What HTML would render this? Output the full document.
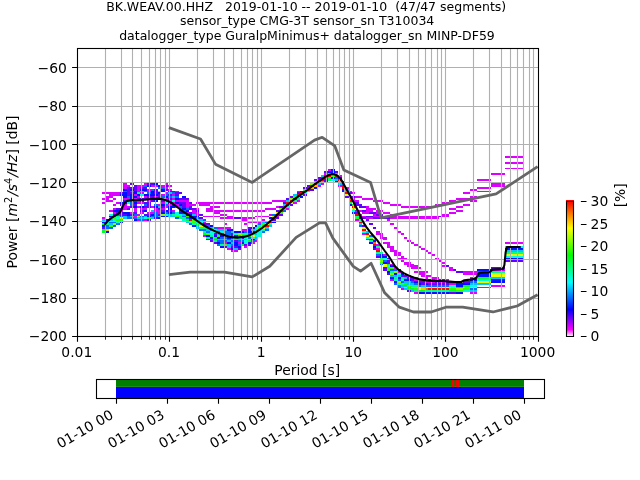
<!DOCTYPE html>
<html lang="en"><head><meta charset="utf-8"><title>PPSD BK.WEAV.00.HHZ</title>
<style>html,body{margin:0;padding:0;background:#fff;overflow:hidden}svg{display:block;will-change:transform;font-family:'DejaVu Sans', 'Liberation Sans', sans-serif;fill:#000}.t10{font-size:13.89px}.t9{font-size:12.5px}</style></head><body>
<svg width="640" height="480" viewBox="0 0 640 480">
<rect width="640" height="480" fill="#fff"/>
<g shape-rendering="crispEdges" stroke="none">
<path fill="#db00ff" d="M137 219H140V221H137ZM144 219H147V221H144ZM241 219H248V221H241ZM262 219H265V221H262ZM355 219H359V221H355ZM387 219H390V221H387ZM224 223H227V225H224ZM244 223H248V225H244ZM390 223H394V225H390ZM241 229H248V231H241ZM376 231H380V233H376ZM397 231H401V233H397ZM102 217H106V219H102ZM220 217H234V219H220ZM241 217H255V219H241ZM366 217H373V219H366ZM380 217H383V219H380ZM390 217H439V219H390ZM203 221H206V223H203ZM248 221H262V223H248ZM217 227H231V229H217ZM394 227H397V229H394ZM137 214H140V216H137ZM196 214H199V216H196ZM220 214H227V216H220ZM269 214H272V216H269ZM359 214H362V216H359ZM373 214H376V216H373ZM390 214H394V216H390ZM442 214H449V216H442ZM134 216H137V217H134ZM203 216H220V217H203ZM227 216H234V217H227ZM255 216H269V217H255ZM276 216H279V217H276ZM359 216H366V217H359ZM373 216H380V217H373ZM387 216H439V217H387ZM442 216H449V217H442ZM113 212H116V214H113ZM130 212H134V214H130ZM140 212H144V214H140ZM147 212H154V214H147ZM158 212H161V214H158ZM186 212H189V214H186ZM192 212H199V214H192ZM213 212H220V214H213ZM362 212H369V214H362ZM376 212H380V214H376ZM383 212H390V214H383ZM449 212H456V214H449ZM109 210H113V212H109ZM120 210H123V212H120ZM134 210H137V212H134ZM154 210H161V212H154ZM172 210H175V212H172ZM192 210H196V212H192ZM206 210H265V212H206ZM355 210H362V212H355ZM366 210H373V212H366ZM376 210H383V212H376ZM456 210H463V212H456ZM113 208H116V210H113ZM123 208H127V210H123ZM134 208H137V210H134ZM140 208H147V210H140ZM154 208H158V210H154ZM161 208H165V210H161ZM196 208H199V210H196ZM206 208H213V210H206ZM265 208H276V210H265ZM286 208H290V210H286ZM366 208H376V210H366ZM449 208H456V210H449ZM102 192H120V194H102ZM140 192H144V194H140ZM165 192H168V194H165ZM352 192H355V194H352ZM463 192H470V194H463ZM109 194H120V196H109ZM134 194H137V196H134ZM161 194H165V196H161ZM172 194H175V196H172ZM113 204H116V206H113ZM123 204H127V206H123ZM158 204H161V206H158ZM168 204H172V206H168ZM175 204H179V206H175ZM186 204H196V206H186ZM199 204H210V206H199ZM390 204H401V206H390ZM435 204H442V206H435ZM463 204H470V206H463ZM102 202H106V204H102ZM116 202H120V204H116ZM137 202H144V204H137ZM161 202H165V204H161ZM172 202H175V204H172ZM186 202H189V204H186ZM196 202H272V204H196ZM293 202H297V204H293ZM383 202H390V204H383ZM442 202H449V204H442ZM106 200H113V202H106ZM147 200H151V202H147ZM165 200H172V202H165ZM175 200H189V202H175ZM272 200H286V202H272ZM297 200H300V202H297ZM352 200H359V202H352ZM373 200H383V202H373ZM449 200H456V202H449ZM470 200H477V202H470ZM123 206H130V208H123ZM137 206H140V208H137ZM151 206H154V208H151ZM165 206H168V208H165ZM175 206H179V208H175ZM186 206H189V208H186ZM210 206H220V208H210ZM276 206H279V208H276ZM366 206H369V208H366ZM401 206H435V208H401ZM456 206H463V208H456ZM130 191H134V192H130ZM144 191H147V192H144ZM175 191H179V192H175ZM297 191H300V192H297ZM349 191H352V192H349ZM477 191H491V192H477ZM137 189H140V191H137ZM147 189H151V191H147ZM168 189H172V191H168ZM470 189H477V191H470ZM106 196H113V198H106ZM137 196H140V198H137ZM144 196H147V198H144ZM154 196H158V198H154ZM355 196H362V198H355ZM470 196H477V198H470ZM123 187H127V189H123ZM137 187H140V189H137ZM165 187H168V189H165ZM345 187H349V189H345ZM477 187H491V189H477ZM123 183H127V185H123ZM144 183H147V185H144ZM165 183H168V185H165ZM321 183H324V185H321ZM491 183H505V185H491ZM102 198H109V200H102ZM113 198H116V200H113ZM123 198H130V200H123ZM134 198H137V200H134ZM147 198H151V200H147ZM165 198H168V200H165ZM172 198H175V200H172ZM352 198H355V200H352ZM362 198H373V200H362ZM456 198H470V200H456ZM123 185H130V187H123ZM137 185H144V187H137ZM151 185H158V187H151ZM161 185H165V187H161ZM168 185H172V187H168ZM317 185H321V187H317ZM338 185H342V187H338ZM491 185H505V187H491ZM220 233H224V235H220ZM362 233H366V235H362ZM376 233H383V235H376ZM401 233H404V235H401ZM203 235H206V237H203ZM380 235H383V237H380ZM380 237H387V239H380ZM404 237H407V239H404ZM366 239H369V240H366ZM383 239H387V240H383ZM255 240H258V242H255ZM407 240H411V242H407ZM224 242H227V244H224ZM238 242H241V244H238ZM251 242H255V244H251ZM383 242H390V244H383ZM411 242H414V244H411ZM505 242H523V244H505ZM376 244H380V246H376ZM387 244H390V246H387ZM414 244H418V246H414ZM244 246H248V248H244ZM387 246H394V248H387ZM418 246H421V248H418ZM227 248H231V250H227ZM376 248H380V250H376ZM390 248H394V250H390ZM421 248H425V250H421ZM231 250H238V252H231ZM390 250H397V252H390ZM425 250H428V252H425ZM477 179H491V181H477ZM338 175H342V177H338ZM324 173H328V175H324ZM491 173H505V175H491ZM328 169H331V171H328ZM383 254H387V256H383ZM394 254H401V256H394ZM432 254H435V256H432ZM394 252H401V254H394ZM428 252H432V254H428ZM401 256H404V258H401ZM390 264H394V265H390ZM404 264H414V265H404ZM401 260H404V262H401ZM439 260H442V262H439ZM404 262H411V264H404ZM442 262H446V264H442ZM397 258H407V260H397ZM435 258H439V260H435ZM449 269H453V271H449ZM491 269H505V271H491ZM407 265H418V267H407ZM442 265H446V267H442ZM394 267H397V269H394ZM411 267H421V269H411ZM449 267H453V269H449ZM397 271H401V273H397ZM414 271H428V273H414ZM463 271H477V273H463ZM418 273H425V275H418ZM463 273H477V275H463ZM414 277H418V279H414ZM425 277H428V279H425ZM432 277H439V279H432ZM470 277H477V279H470ZM407 275H411V277H407ZM421 275H432V277H421ZM390 279H394V281H390ZM414 279H428V281H414ZM435 279H439V281H435ZM446 279H449V281H446ZM449 283H456V285H449ZM425 281H435V283H425ZM439 281H446V283H439ZM491 285H505V287H491ZM397 287H401V288H397ZM477 287H491V288H477ZM401 288H404V290H401ZM414 292H418V294H414ZM470 292H477V294H470ZM505 156H523V158H505ZM505 162H523V164H505ZM505 168H523V169H505Z"/>
<path fill="#6300ff" d="M147 219H151V221H147ZM272 219H276V221H272ZM366 219H369V221H366ZM203 223H210V225H203ZM369 223H373V225H369ZM362 225H366V227H362ZM154 217H158V219H154ZM199 217H203V219H199ZM234 217H241V219H234ZM276 217H279V219H276ZM362 217H366V219H362ZM373 217H380V219H373ZM383 217H390V219H383ZM102 227H106V229H102ZM248 227H251V229H248ZM373 227H376V229H373ZM113 214H116V216H113ZM120 214H127V216H120ZM130 214H134V216H130ZM144 214H151V216H144ZM158 214H161V216H158ZM199 214H203V216H199ZM279 214H283V216H279ZM376 214H383V216H376ZM366 216H373V217H366ZM380 216H383V217H380ZM439 216H442V217H439ZM116 212H123V214H116ZM134 212H137V214H134ZM182 212H186V214H182ZM189 212H192V214H189ZM355 212H359V214H355ZM369 212H376V214H369ZM140 210H144V212H140ZM161 210H165V212H161ZM168 210H172V212H168ZM179 210H182V212H179ZM196 210H199V212H196ZM276 210H279V212H276ZM362 210H366V212H362ZM116 208H123V210H116ZM127 208H130V210H127ZM158 208H161V210H158ZM189 208H196V210H189ZM120 192H123V194H120ZM127 192H134V194H127ZM154 192H158V194H154ZM175 192H182V194H175ZM297 192H300V194H297ZM349 192H352V194H349ZM127 194H130V196H127ZM158 194H161V196H158ZM168 194H172V196H168ZM175 194H179V196H175ZM303 194H307V196H303ZM120 204H123V206H120ZM134 204H137V206H134ZM147 204H151V206H147ZM182 204H186V206H182ZM290 204H293V206H290ZM355 204H362V206H355ZM144 202H151V204H144ZM179 202H186V204H179ZM189 202H192V204H189ZM283 202H286V204H283ZM355 202H359V204H355ZM123 200H127V202H123ZM130 200H137V202H130ZM140 200H144V202H140ZM151 200H154V202H151ZM161 200H165V202H161ZM130 206H134V208H130ZM144 206H151V208H144ZM161 206H165V208H161ZM182 206H186V208H182ZM189 206H192V208H189ZM279 206H283V208H279ZM359 206H366V208H359ZM127 191H130V192H127ZM154 191H158V192H154ZM168 191H175V192H168ZM127 189H130V191H127ZM134 189H137V191H134ZM154 189H158V191H154ZM165 189H168V191H165ZM310 189H314V191H310ZM147 196H154V198H147ZM158 196H161V198H158ZM290 196H293V198H290ZM345 196H349V198H345ZM352 196H355V198H352ZM127 187H137V189H127ZM140 187H147V189H140ZM303 187H307V189H303ZM130 183H134V185H130ZM147 183H154V185H147ZM137 198H147V200H137ZM168 198H172V200H168ZM179 198H189V200H179ZM286 198H290V200H286ZM134 185H137V187H134ZM165 185H168V187H165ZM307 185H310V187H307ZM213 233H217V235H213ZM231 233H234V235H231ZM231 235H238V237H231ZM241 237H244V239H241ZM206 239H210V240H206ZM210 240H213V242H210ZM234 240H238V242H234ZM213 242H217V244H213ZM244 244H251V246H244ZM224 246H227V248H224ZM231 246H238V248H231ZM238 248H241V250H238ZM373 248H376V250H373ZM324 181H328V183H324ZM342 181H345V183H342ZM314 179H317V181H314ZM324 179H328V181H324ZM317 177H321V179H317ZM324 171H328V173H324ZM335 171H338V173H335ZM376 256H380V258H376ZM387 260H390V262H387ZM505 260H523V262H505ZM387 262H390V264H387ZM387 258H390V260H387ZM383 269H387V271H383ZM453 269H456V271H453ZM446 265H449V267H446ZM383 267H387V269H383ZM491 267H505V269H491ZM456 271H463V273H456ZM387 273H390V275H387ZM407 277H414V279H407ZM401 275H407V277H401ZM411 279H414V281H411ZM428 279H435V281H428ZM439 279H446V281H439ZM421 283H425V285H421ZM428 283H449V285H428ZM418 281H425V283H418ZM435 281H439V283H435ZM446 281H456V283H446ZM463 281H470V283H463ZM407 290H411V292H407ZM449 292H456V294H449Z"/>
<path fill="#0010ff" d="M106 219H109V221H106ZM134 219H137V221H134ZM227 229H234V231H227ZM248 229H251V231H248ZM102 225H106V227H102ZM192 225H196V227H192ZM210 225H213V227H210ZM255 225H258V227H255ZM106 231H109V233H106ZM234 231H244V233H234ZM248 231H255V233H248ZM158 217H161V219H158ZM189 217H196V219H189ZM269 217H272V219H269ZM359 217H362V219H359ZM102 221H106V223H102ZM120 221H123V223H120ZM272 221H276V223H272ZM251 227H255V229H251ZM127 214H130V216H127ZM151 214H154V216H151ZM186 214H192V216H186ZM109 216H113V217H109ZM147 216H151V217H147ZM161 216H168V217H161ZM189 216H199V217H189ZM123 212H130V214H123ZM161 212H165V214H161ZM168 212H172V214H168ZM179 212H182V214H179ZM352 212H355V214H352ZM113 210H120V212H113ZM144 210H147V212H144ZM165 210H168V212H165ZM186 210H189V212H186ZM168 208H172V210H168ZM182 208H186V210H182ZM123 192H127V194H123ZM134 192H137V194H134ZM151 192H154V194H151ZM158 192H161V194H158ZM120 194H127V196H120ZM130 194H134V196H130ZM137 194H140V196H137ZM144 194H158V196H144ZM161 204H165V206H161ZM172 204H175V206H172ZM179 204H182V206H179ZM349 204H352V206H349ZM120 202H127V204H120ZM134 202H137V204H134ZM168 202H172V204H168ZM175 202H179V204H175ZM154 200H158V202H154ZM134 206H137V208H134ZM140 206H144V208H140ZM154 206H158V208H154ZM168 206H175V208H168ZM134 191H137V192H134ZM151 191H154V192H151ZM161 191H165V192H161ZM300 191H303V192H300ZM342 191H345V192H342ZM123 189H127V191H123ZM130 189H134V191H130ZM140 189H147V191H140ZM161 189H165V191H161ZM342 189H345V191H342ZM123 196H127V198H123ZM130 196H137V198H130ZM165 196H168V198H165ZM182 196H186V198H182ZM300 196H303V198H300ZM314 187H317V189H314ZM154 183H158V185H154ZM130 198H134V200H130ZM154 198H161V200H154ZM175 198H179V200H175ZM147 185H151V187H147ZM158 185H161V187H158ZM206 235H210V237H206ZM213 235H217V237H213ZM220 235H224V237H220ZM210 237H213V239H210ZM217 237H220V239H217ZM227 237H231V239H227ZM251 239H255V240H251ZM373 240H376V242H373ZM217 242H220V244H217ZM227 242H231V244H227ZM234 242H238V244H234ZM241 242H244V244H241ZM248 242H251V244H248ZM369 242H373V244H369ZM234 244H238V246H234ZM220 246H224V248H220ZM238 246H241V248H238ZM373 246H376V248H373ZM231 248H234V250H231ZM505 248H523V250H505ZM335 181H338V183H335ZM331 177H335V179H331ZM338 177H342V179H338ZM328 171H335V173H328ZM331 169H335V171H331ZM380 254H383V256H380ZM380 256H387V258H380ZM383 262H387V264H383ZM505 258H523V260H505ZM397 269H401V271H397ZM477 269H491V271H477ZM390 265H394V267H390ZM387 271H390V273H387ZM394 273H397V275H394ZM401 273H404V275H401ZM477 273H491V275H477ZM390 277H394V279H390ZM397 277H401V279H397ZM477 275H491V277H477ZM404 279H411V281H404ZM470 279H477V281H470ZM491 279H505V281H491ZM418 283H421V285H418ZM425 283H428V285H425ZM456 283H470V285H456ZM394 281H397V283H394ZM414 281H418V283H414ZM491 281H505V283H491ZM456 285H463V287H456ZM418 292H449V294H418ZM456 292H463V294H456Z"/>
<path fill="#006bff" d="M140 219H144V221H140ZM203 219H206V221H203ZM116 223H120V225H116ZM189 223H192V225H189ZM258 223H262V225H258ZM199 229H206V231H199ZM210 229H213V231H210ZM265 229H269V231H265ZM106 225H109V227H106ZM113 225H116V227H113ZM206 225H210V227H206ZM359 225H362V227H359ZM206 231H210V233H206ZM217 231H220V233H217ZM224 231H231V233H224ZM244 231H248V233H244ZM255 231H258V233H255ZM262 231H265V233H262ZM127 217H137V219H127ZM175 217H179V219H175ZM186 217H189V219H186ZM196 217H199V219H196ZM109 221H116V223H109ZM265 221H269V223H265ZM106 227H113V229H106ZM213 227H217V229H213ZM116 214H120V216H116ZM134 214H137V216H134ZM154 214H158V216H154ZM272 214H276V216H272ZM113 216H116V217H113ZM120 216H123V217H120ZM127 216H130V217H127ZM140 216H144V217H140ZM151 216H158V217H151ZM182 216H186V217H182ZM383 216H387V217H383ZM154 212H158V214H154ZM165 212H168V214H165ZM172 212H175V214H172ZM182 210H186V212H182ZM283 210H286V212H283ZM179 208H182V210H179ZM186 208H189V210H186ZM147 192H151V194H147ZM172 192H175V194H172ZM165 194H168V196H165ZM130 204H134V206H130ZM144 204H147V206H144ZM154 204H158V206H154ZM165 204H168V206H165ZM130 202H134V204H130ZM127 200H130V202H127ZM137 200H140V202H137ZM179 206H182V208H179ZM123 191H127V192H123ZM137 191H140V192H137ZM147 191H151V192H147ZM151 189H154V191H151ZM127 196H130V198H127ZM161 196H165V198H161ZM168 196H172V198H168ZM175 196H179V198H175ZM349 196H352V198H349ZM158 187H165V189H158ZM342 183H345V185H342ZM151 198H154V200H151ZM144 185H147V187H144ZM224 233H231V235H224ZM248 233H251V235H248ZM224 235H227V237H224ZM369 235H373V237H369ZM220 237H227V239H220ZM231 237H234V239H231ZM248 237H251V239H248ZM210 239H213V240H210ZM227 239H231V240H227ZM217 240H227V242H217ZM231 240H234V242H231ZM238 240H244V242H238ZM251 240H255V242H251ZM220 242H224V244H220ZM217 244H220V246H217ZM231 244H234V246H231ZM238 244H241V246H238ZM335 177H338V179H335ZM376 254H380V256H376ZM380 264H383V265H380ZM383 260H387V262H383ZM390 269H397V271H390ZM477 271H491V273H477ZM397 279H401V281H397ZM394 283H397V285H394ZM414 283H418V285H414ZM401 281H404V283H401ZM411 281H414V283H411ZM470 281H477V283H470ZM397 285H401V287H397ZM418 285H421V287H418ZM425 285H449V287H425ZM470 288H477V290H470Z"/>
<path fill="#00c5ff" d="M102 219H106V221H102ZM109 219H113V221H109ZM199 219H203V221H199ZM109 223H113V225H109ZM359 223H362V225H359ZM206 229H210V231H206ZM217 229H227V231H217ZM251 229H255V231H251ZM258 229H262V231H258ZM196 225H199V227H196ZM269 225H272V227H269ZM231 231H234V233H231ZM366 231H369V233H366ZM123 217H127V219H123ZM137 217H144V219H137ZM151 217H154V219H151ZM186 221H189V223H186ZM262 221H265V223H262ZM196 227H199V229H196ZM265 227H269V229H265ZM168 214H172V216H168ZM182 214H186V216H182ZM192 214H196V216H192ZM123 216H127V217H123ZM130 216H134V217H130ZM144 216H147V217H144ZM158 216H161V217H158ZM168 216H175V217H168ZM151 210H154V212H151ZM168 192H172V194H168ZM293 194H297V196H293ZM283 204H286V206H283ZM286 200H290V202H286ZM158 206H161V208H158ZM140 191H144V192H140ZM345 189H349V191H345ZM172 196H175V198H172ZM317 183H321V185H317ZM338 183H342V185H338ZM217 233H220V235H217ZM255 233H258V235H255ZM227 235H231V237H227ZM238 235H248V237H238ZM255 237H258V239H255ZM213 239H227V240H213ZM238 239H241V240H238ZM244 239H248V240H244ZM255 239H258V240H255ZM373 239H376V240H373ZM227 240H231V242H227ZM231 242H234V244H231ZM227 244H231V246H227ZM227 246H231V248H227ZM234 248H238V250H234ZM505 250H523V252H505ZM321 181H324V183H321ZM335 179H338V181H335ZM321 175H324V177H321ZM335 173H338V175H335ZM404 277H407V279H404ZM491 277H505V279H491ZM390 275H401V277H390ZM407 283H414V285H407ZM470 283H491V285H470ZM404 281H411V283H404ZM401 285H407V287H401ZM421 285H425V287H421ZM404 288H407V290H404ZM411 290H414V292H411ZM470 290H477V292H470Z"/>
<path fill="#00ffde" d="M113 219H116V221H113ZM182 219H186V221H182ZM192 223H196V225H192ZM199 223H203V225H199ZM269 223H272V225H269ZM213 229H217V231H213ZM262 229H265V231H262ZM210 231H217V233H210ZM220 231H224V233H220ZM258 231H262V233H258ZM362 231H366V233H362ZM116 217H120V219H116ZM144 217H147V219H144ZM106 221H109V223H106ZM116 221H120V223H116ZM189 221H192V223H189ZM196 221H203V223H196ZM255 227H258V229H255ZM109 214H113V216H109ZM165 214H168V216H165ZM175 214H182V216H175ZM175 212H179V214H175ZM352 210H355V212H352ZM303 192H307V194H303ZM140 194H144V196H140ZM127 202H130V204H127ZM165 202H168V204H165ZM172 200H175V202H172ZM286 206H290V208H286ZM158 191H161V192H158ZM210 233H213V235H210ZM234 233H238V235H234ZM258 233H262V235H258ZM255 235H262V237H255ZM238 237H241V239H238ZM244 237H248V239H244ZM251 237H255V239H251ZM366 237H369V239H366ZM248 239H251V240H248ZM244 240H248V242H244ZM244 242H248V244H244ZM505 246H523V248H505ZM331 179H335V181H331ZM505 256H523V258H505ZM383 258H387V260H383ZM387 265H390V267H387ZM397 273H401V275H397ZM394 279H397V281H394ZM401 279H404V281H401ZM477 279H491V281H477ZM397 283H401V285H397ZM449 285H456V287H449ZM470 285H477V287H470ZM463 290H470V292H463Z"/>
<path fill="#00ff84" d="M196 219H199V221H196ZM359 219H362V221H359ZM106 223H109V225H106ZM258 225H262V227H258ZM203 231H206V233H203ZM109 217H113V219H109ZM179 217H186V219H179ZM199 227H210V229H199ZM172 214H175V216H172ZM116 216H120V217H116ZM179 216H182V217H179ZM355 216H359V217H355ZM137 192H140V194H137ZM293 200H297V202H293ZM307 191H310V192H307ZM293 196H297V198H293ZM297 198H300V200H297ZM244 233H248V235H244ZM251 233H255V235H251ZM210 235H213V237H210ZM206 237H210V239H206ZM213 240H217V242H213ZM369 240H373V242H369ZM220 244H224V246H220ZM376 246H380V248H376ZM314 181H317V183H314ZM328 179H331V181H328ZM328 173H331V175H328ZM376 252H383V254H376ZM505 252H523V254H505ZM380 258H383V260H380ZM390 271H394V273H390ZM491 271H505V273H491ZM394 277H397V279H394ZM401 277H404V279H401ZM401 283H404V285H401ZM411 285H418V287H411ZM414 290H418V292H414ZM425 290H449V292H425Z"/>
<path fill="#00ff2a" d="M120 219H123V221H120ZM186 219H189V221H186ZM102 223H106V225H102ZM196 223H199V225H196ZM102 229H106V231H102ZM262 225H265V227H262ZM102 231H106V233H102ZM147 217H151V219H147ZM210 227H213V229H210ZM283 208H286V210H283ZM352 204H355V206H352ZM349 202H352V204H349ZM345 191H349V192H345ZM203 233H206V235H203ZM248 235H251V237H248ZM213 237H217V239H213ZM234 237H238V239H234ZM231 239H238V240H231ZM241 239H244V240H241ZM248 240H251V242H248ZM241 244H244V246H241ZM328 177H331V179H328ZM387 264H390V265H387ZM477 277H491V279H477ZM404 283H407V285H404ZM463 285H470V287H463ZM401 287H404V288H401ZM407 287H411V288H407ZM407 288H414V290H407ZM418 290H425V292H418ZM449 290H456V292H449Z"/>
<path fill="#31ff00" d="M116 219H120V221H116ZM192 219H196V221H192ZM262 223H265V225H262ZM255 229H258V231H255ZM109 225H113V227H109ZM203 225H206V227H203ZM113 217H116V219H113ZM355 217H359V219H355ZM192 221H196V223H192ZM258 227H262V229H258ZM175 216H179V217H175ZM186 216H189V217H186ZM279 212H283V214H279ZM303 189H307V191H303ZM206 233H210V235H206ZM241 233H244V235H241ZM217 235H220V237H217ZM224 244H227V246H224ZM338 181H342V183H338ZM331 175H335V177H331ZM380 262H383V264H380ZM387 269H390V271H387ZM387 267H394V269H387ZM407 285H411V287H407ZM414 288H418V290H414ZM449 288H456V290H449ZM463 288H470V290H463ZM456 290H463V292H456Z"/>
<path fill="#8bff00" d="M113 223H116V225H113ZM161 214H165V216H161ZM137 216H140V217H137ZM279 208H283V210H279ZM300 194H303V196H300ZM297 196H300V198H297ZM310 183H314V185H310ZM290 198H293V200H290ZM238 233H241V235H238ZM369 237H373V239H369ZM380 260H383V262H380ZM394 271H397V273H394ZM390 273H394V275H390ZM397 281H401V283H397ZM404 287H407V288H404ZM411 287H418V288H411ZM421 287H425V288H421ZM456 288H463V290H456Z"/>
<path fill="#e6ff00" d="M269 219H272V221H269ZM265 223H269V225H265ZM199 225H203V227H199ZM120 217H123V219H120ZM262 227H265V229H262ZM362 227H366V229H362ZM272 216H276V217H272ZM276 212H279V214H276ZM352 208H355V210H352ZM345 194H349V196H345ZM290 202H293V204H290ZM251 235H255V237H251ZM366 235H369V237H366ZM505 254H523V256H505ZM383 264H387V265H383ZM383 265H387V267H383ZM491 273H505V275H491ZM491 275H505V277H491ZM477 281H491V283H477ZM418 287H421V288H418ZM425 287H449V288H425ZM418 288H421V290H418Z"/>
<path fill="#ffbe00" d="M106 229H109V231H106ZM310 187H314V189H310ZM314 185H317V187H314ZM449 287H456V288H449ZM463 287H477V288H463ZM421 288H425V290H421Z"/>
<path fill="#ff6300" d="M349 198H352V200H349ZM373 242H376V244H373ZM456 287H463V288H456ZM425 288H428V290H425Z"/>
<path fill="#ff0900" d="M286 202H290V204H286ZM307 189H310V191H307ZM321 177H324V179H321ZM428 288H449V290H428Z"/>
<path fill="#ff0000" d="M189 219H192V221H189ZM362 229H366V231H362ZM265 225H269V227H265ZM272 217H276V219H272ZM269 221H272V223H269ZM359 221H362V223H359ZM276 214H279V216H276ZM355 214H359V216H355ZM279 210H283V212H279ZM300 192H303V194H300ZM345 192H349V194H345ZM297 194H300V196H297ZM286 204H290V206H286ZM290 200H293V202H290ZM349 200H352V202H349ZM283 206H286V208H283ZM352 206H355V208H352ZM303 191H307V192H303ZM307 187H310V189H307ZM342 187H345V189H342ZM314 183H317V185H314ZM293 198H297V200H293ZM310 185H314V187H310ZM342 185H345V187H342ZM366 233H369V235H366ZM369 239H373V240H369ZM373 244H376V246H373ZM376 250H380V252H376ZM317 181H321V183H317ZM317 179H321V181H317ZM321 179H324V181H321ZM338 179H342V181H338ZM324 177H328V179H324ZM324 175H328V177H324ZM328 175H331V177H328ZM335 175H338V177H335ZM331 173H335V175H331Z"/>
</g>
<path d="M105.50 48.50V336.50M121.50 48.50V336.50M132.50 48.50V336.50M141.50 48.50V336.50M149.50 48.50V336.50M155.50 48.50V336.50M160.50 48.50V336.50M165.50 48.50V336.50M169.50 48.50V336.50M197.50 48.50V336.50M213.50 48.50V336.50M224.50 48.50V336.50M233.50 48.50V336.50M241.50 48.50V336.50M247.50 48.50V336.50M252.50 48.50V336.50M257.50 48.50V336.50M261.50 48.50V336.50M289.50 48.50V336.50M305.50 48.50V336.50M317.50 48.50V336.50M326.50 48.50V336.50M333.50 48.50V336.50M339.50 48.50V336.50M344.50 48.50V336.50M349.50 48.50V336.50M353.50 48.50V336.50M381.50 48.50V336.50M397.50 48.50V336.50M409.50 48.50V336.50M418.50 48.50V336.50M425.50 48.50V336.50M431.50 48.50V336.50M437.50 48.50V336.50M441.50 48.50V336.50M445.50 48.50V336.50M473.50 48.50V336.50M489.50 48.50V336.50M501.50 48.50V336.50M510.50 48.50V336.50M517.50 48.50V336.50M523.50 48.50V336.50M529.50 48.50V336.50M533.50 48.50V336.50M77.50 298.50H538.50M77.50 259.50H538.50M77.50 221.50H538.50M77.50 182.50H538.50M77.50 144.50H538.50M77.50 106.50H538.50M77.50 67.50H538.50" stroke="#b0b0b0" stroke-width="1.1" fill="none"/>
<path d="M168.96 127.68L200.52 139.02L215.51 164.16L252.19 182.40L314.55 140.16L322.20 137.28L334.79 145.92L343.85 169.91L370.56 182.40L381.02 217.91L496.13 193.93L537.60 166.60" stroke="#666666" stroke-width="2.78" fill="none" stroke-linejoin="round" stroke-linecap="butt"/>
<path d="M168.96 274.56L190.20 272.06L224.45 272.06L252.19 276.87L269.73 266.30L296.16 237.40L319.50 222.91L325.54 222.90L332.83 238.08L353.28 266.40L360.58 271.19L371.08 263.29L384.66 292.81L399.33 307.19L413.48 312.00L431.16 312.00L445.84 307.20L462.72 307.18L492.98 311.98L517.15 306.01L537.60 294.68" stroke="#666666" stroke-width="2.78" fill="none" stroke-linejoin="round" stroke-linecap="butt"/>
<path d="M104.50 224.75L107.50 221.25L111.25 218.10L115.00 215.60L118.75 213.50L120.60 211.25L122.50 206.90L124.40 203.10L126.25 201.25L129.40 200.20L136.25 200.00L145.00 199.60L151.25 199.00L157.50 198.60L163.10 199.20L167.50 200.80L171.25 202.60L176.25 206.25L182.50 211.25L188.75 215.00L195.00 219.40L201.25 223.75L207.50 227.50L213.75 230.60L220.00 233.50L226.25 235.80L231.25 237.10L237.50 237.60L243.75 236.90L250.00 235.20L256.25 231.90L262.50 227.75L268.75 222.50L275.00 216.90L281.25 210.60L287.50 205.00L293.10 200.20L301.25 194.40L307.50 190.00L313.75 185.00L320.00 180.60L325.00 177.20L328.75 175.10L332.50 174.10L336.25 175.00L340.00 178.10L342.50 181.90L346.25 188.75L350.00 195.60L353.75 202.50L357.50 210.00L360.00 215.30L363.10 221.90L366.25 226.90L370.00 231.90L373.75 236.25L377.50 240.60L381.25 246.00L385.00 251.25L388.75 256.25L391.90 261.25L395.00 266.25L398.75 270.00L403.75 273.10L408.75 275.60L413.75 277.50L420.00 279.40L426.25 280.40L432.50 280.90L438.75 281.00L445.00 281.30L450.00 281.60L455.00 282.00L461.25 282.00L464.40 280.25L470.00 279.60L475.60 278.75L477.50 275.60L479.40 272.75L489.40 272.25L492.50 269.60L503.10 269.00L504.40 265.00L505.60 252.50L506.90 247.00L520.70 247.00" stroke="#000" stroke-width="2.08" fill="none" stroke-linejoin="round" stroke-linecap="butt"/>
<rect x="77.50" y="48.50" width="461.00" height="288.00" fill="none" stroke="#000" stroke-width="1.1"/>
<path d="M77.50 336.50v5.3M169.50 336.50v5.3M261.50 336.50v5.3M353.50 336.50v5.3M445.50 336.50v5.3M538.50 336.50v5.3M77.50 336.50h-5.4M77.50 298.50h-5.4M77.50 259.50h-5.4M77.50 221.50h-5.4M77.50 182.50h-5.4M77.50 144.50h-5.4M77.50 106.50h-5.4M77.50 67.50h-5.4" stroke="#000" stroke-width="1.1" fill="none"/>
<path d="M105.50 336.50v3.2M121.50 336.50v3.2M132.50 336.50v3.2M141.50 336.50v3.2M149.50 336.50v3.2M155.50 336.50v3.2M160.50 336.50v3.2M165.50 336.50v3.2M197.50 336.50v3.2M213.50 336.50v3.2M224.50 336.50v3.2M233.50 336.50v3.2M241.50 336.50v3.2M247.50 336.50v3.2M252.50 336.50v3.2M257.50 336.50v3.2M289.50 336.50v3.2M305.50 336.50v3.2M317.50 336.50v3.2M326.50 336.50v3.2M333.50 336.50v3.2M339.50 336.50v3.2M344.50 336.50v3.2M349.50 336.50v3.2M381.50 336.50v3.2M397.50 336.50v3.2M409.50 336.50v3.2M418.50 336.50v3.2M425.50 336.50v3.2M431.50 336.50v3.2M437.50 336.50v3.2M441.50 336.50v3.2M473.50 336.50v3.2M489.50 336.50v3.2M501.50 336.50v3.2M510.50 336.50v3.2M517.50 336.50v3.2M523.50 336.50v3.2M529.50 336.50v3.2M533.50 336.50v3.2" stroke="#000" stroke-width="0.83" fill="none"/>
<text class="t10" x="76.80" y="357.3" text-anchor="middle">0.01</text>
<text class="t10" x="168.96" y="357.3" text-anchor="middle">0.1</text>
<text class="t10" x="261.12" y="357.3" text-anchor="middle">1</text>
<text class="t10" x="353.28" y="357.3" text-anchor="middle">10</text>
<text class="t10" x="445.44" y="357.3" text-anchor="middle">100</text>
<text class="t10" x="537.60" y="357.3" text-anchor="middle">1000</text>
<text class="t10" x="66.9" y="340.85" text-anchor="end">−200</text>
<text class="t10" x="66.9" y="302.85" text-anchor="end">−180</text>
<text class="t10" x="66.9" y="264.85" text-anchor="end">−160</text>
<text class="t10" x="66.9" y="225.85" text-anchor="end">−140</text>
<text class="t10" x="66.9" y="187.85" text-anchor="end">−120</text>
<text class="t10" x="66.9" y="149.85" text-anchor="end">−100</text>
<text class="t10" x="66.9" y="110.85" text-anchor="end">−80</text>
<text class="t10" x="66.9" y="72.85" text-anchor="end">−60</text>
<text class="t10" x="307.2" y="375.4" text-anchor="middle">Period [s]</text>
<text class="t10" transform="translate(16.6 192.0) rotate(-90)" text-anchor="middle">Power [<tspan font-style="italic">m</tspan><tspan font-size="9.72px" dy="-5">2</tspan><tspan font-style="italic" dy="5" dx="0.9">/s</tspan><tspan font-size="9.72px" dy="-5">4</tspan><tspan font-style="italic" dy="5" dx="0.9">/Hz</tspan>] [dB]</text>
<text class="t9" x="306.2" y="10.6" text-anchor="middle" xml:space="preserve" style="white-space:pre">BK.WEAV.00.HHZ   2019-01-10 -- 2019-01-10  (47/47 segments)</text>
<text class="t9" x="307.2" y="25.3" text-anchor="middle">sensor_type CMG-3T sensor_sn T310034</text>
<text class="t9" x="307.0" y="39.85" text-anchor="middle">datalogger_type GuralpMinimus+ datalogger_sn MINP-DF59</text>
<defs><linearGradient id="pqlx" x1="0" y1="1" x2="0" y2="0"><stop offset="0" stop-color="#ffffff"/><stop offset="0.05" stop-color="#ff00ff"/><stop offset="0.2" stop-color="#0000ff"/><stop offset="0.4" stop-color="#00ffff"/><stop offset="0.6" stop-color="#00ff00"/><stop offset="0.8" stop-color="#ffff00"/><stop offset="1" stop-color="#ff0000"/></linearGradient></defs>
<rect x="566.50" y="201.00" width="7.00" height="135.50" fill="url(#pqlx)"/>
<path d="M566.50 201.50H573.50V336.50H566.50Z" fill="none" stroke="#000" stroke-width="1.1"/>
<rect x="566.00" y="200.00" width="8.00" height="1.05" fill="#ff0000"/>
<text class="t10" x="590.6" y="341.30">0</text>
<text class="t10" x="590.6" y="319.30">5</text>
<text class="t10" x="590.6" y="296.30">10</text>
<text class="t10" x="590.6" y="274.30">15</text>
<text class="t10" x="590.6" y="251.30">20</text>
<text class="t10" x="590.6" y="229.30">25</text>
<text class="t10" x="590.6" y="206.30">30</text>
<path d="M580.9 336.50h5.6M580.9 314.50h5.6M580.9 291.50h5.6M580.9 269.50h5.6M580.9 246.50h5.6M580.9 224.50h5.6M580.9 201.50h5.6" stroke="#000" stroke-width="1.1" fill="none"/>
<text class="t10" transform="translate(625.2 183.3) rotate(-90)" text-anchor="end">[%]</text>
<rect x="116.00" y="386.88" width="408.00" height="11.52" fill="#0000ff"/>
<rect x="116.00" y="379.20" width="408.00" height="7.68" fill="#008000"/>
<rect x="451.9" y="379.20" width="2.4" height="7.68" fill="#ff0000"/>
<rect x="456.1" y="379.20" width="2.9" height="7.68" fill="#ff0000"/>
<rect x="96.50" y="379.50" width="448.00" height="19.00" fill="none" stroke="#000" stroke-width="1.1"/>
<text class="t10" transform="translate(109.30 409.0) rotate(-30)" text-anchor="end" dy="0.72em">01-10 00</text>
<text class="t10" transform="translate(160.30 409.0) rotate(-30)" text-anchor="end" dy="0.72em">01-10 03</text>
<text class="t10" transform="translate(211.30 409.0) rotate(-30)" text-anchor="end" dy="0.72em">01-10 06</text>
<text class="t10" transform="translate(262.30 409.0) rotate(-30)" text-anchor="end" dy="0.72em">01-10 09</text>
<text class="t10" transform="translate(313.30 409.0) rotate(-30)" text-anchor="end" dy="0.72em">01-10 12</text>
<text class="t10" transform="translate(364.30 409.0) rotate(-30)" text-anchor="end" dy="0.72em">01-10 15</text>
<text class="t10" transform="translate(415.30 409.0) rotate(-30)" text-anchor="end" dy="0.72em">01-10 18</text>
<text class="t10" transform="translate(466.30 409.0) rotate(-30)" text-anchor="end" dy="0.72em">01-10 21</text>
<text class="t10" transform="translate(517.30 409.0) rotate(-30)" text-anchor="end" dy="0.72em">01-11 00</text>
<path d="M116.50 398.50v5.3M167.50 398.50v5.3M218.50 398.50v5.3M269.50 398.50v5.3M320.50 398.50v5.3M371.50 398.50v5.3M422.50 398.50v5.3M473.50 398.50v5.3M524.50 398.50v5.3" stroke="#000" stroke-width="1.1" fill="none"/>
</svg></body></html>
